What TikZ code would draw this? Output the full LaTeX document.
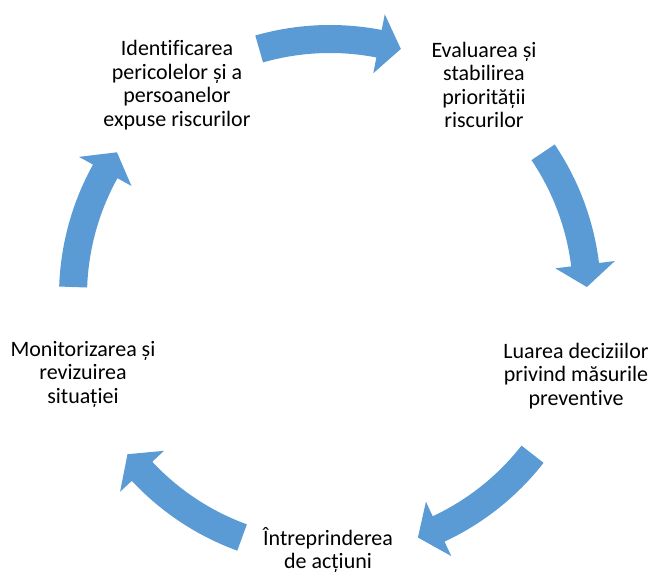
\documentclass[tikz,border=0pt]{standalone}
\usepackage{fontspec}
\setmainfont{Carlito}[Ligatures={NoCommon,NoRare}]
\usepackage{tikz}
\usetikzlibrary{positioning}

\definecolor{cycleblue}{RGB}{91,155,213}

% one curved block arrow of the cycle, #1 = middle angle
\newcommand{\CycleArrow}[1]{%
  \pgfmathsetmacro{\tailang}{#1+16}%
  \pgfmathsetmacro{\headang}{#1-11}%
  \pgfmathsetmacro{\tipang}{#1-16}%
  \fill[cycleblue] (\tailang:271pt)
    arc[start angle=\tailang, end angle=\headang, radius=271pt]
    -- (\headang:287pt) -- (\tipang:257pt) -- (\headang:227pt)
    -- (\headang:243pt)
    arc[start angle=\headang, end angle=\tailang, radius=243pt] -- cycle;}

\begin{document}
\begin{tikzpicture}[x=1pt, y=1pt]
  \tikzstyle{every node} = [font = \fontsize{22}{23.5}\selectfont,
                            align = center,
                            inner sep = 0pt]
\useasboundingbox (0,0) rectangle (655,574);
\coordinate (hub) at (330,278);

\node (ident) at (177,489) {Identificarea\\pericolelor și a\\persoanelor\\expuse riscurilor};
\node (eval)  at (484,489) {Evaluarea și\\stabilirea\\priorității\\riscurilor};
\node (decis) at (576,198) {Luarea deciziilor\\privind măsurile\\preventive};
\node (act)   at (328,24)  {Întreprinderea\\de acțiuni};
\node (monit) at (83,200)  {Monitorizarea și\\revizuirea\\situației};

% arrows between the steps
\begin{scope}[shift={(hub)}]
\foreach \a in {90,18,-54,-126,-198}
  {\CycleArrow{\a}}
\end{scope}

\end{tikzpicture}
\end{document}
